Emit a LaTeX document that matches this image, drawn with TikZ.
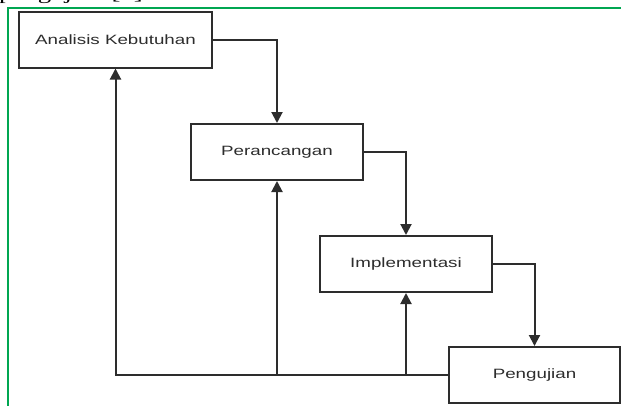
\documentclass[tikz,border=0pt]{standalone}
\usepackage{graphicx}
\usepackage{fontspec}
\setmainfont{Liberation Sans}
\newfontfamily\capfont{Liberation Serif}
\usetikzlibrary{arrows.meta}
\definecolor{framegreen}{RGB}{0,166,81}
\definecolor{ink}{RGB}{45,45,45}
\tikzset{
  stage/.style={draw=ink, line width=2pt, fill=white, inner sep=0pt,
    minimum height=56pt, text=ink,
    font=\fontsize{13.5}{15}\selectfont},
  flow/.style={draw=ink, line width=2pt, line cap=rect,
    -{Triangle[length=11pt,width=11pt]}},
  link/.style={draw=ink, line width=2pt}
}
\newcommand{\wide}[1]{\scalebox{1.39}[1]{#1}}
\begin{document}
\begin{tikzpicture}[x=1pt,y=-1pt]
  \useasboundingbox (0,0) rectangle (621,405);
  \clip (0,0) rectangle (621,405);
  \fill[white] (0,0) rectangle (621,405);

  % caption line of the surrounding page, cut off at the top
  \node[anchor=base west, inner sep=0pt, font=\capfont\fontsize{19}{21}\selectfont]
    (cap) at (-1,-1) {\scalebox{1.41}[1]{pengujian [1]}};

  % green frame
  \draw[framegreen, line width=2pt] (8,410) -- (8,8) -- (625,8);

  % stages of the waterfall
  \node[stage, minimum width=193pt] (ak) at (115.5,39.5) {\wide{Analisis Kebutuhan}};
  \node[stage, minimum width=172pt] (pr) at (277,152) {\wide{Perancangan}};
  \node[stage, minimum width=172pt] (im) at (406,264) {\wide{Implementasi}};
  \node[stage, minimum width=171pt] (pg) at (534.5,375) {\wide{Pengujian}};

  % forward flow
  \draw[flow] (ak.east) -| (pr.north);
  \draw[flow] (pr.east) -| (im.north);
  \draw[flow] (im.east) -| (pg.north);

  % feedback from testing
  \coordinate (fb) at (pg.west);
  \draw[link] (fb) -- (ak.south |- fb);
  \draw[flow] (ak.south |- fb) -- (ak.south);
  \draw[flow] (pr.south |- fb) -- (pr.south);
  \draw[flow] (im.south |- fb) -- (im.south);
\end{tikzpicture}
\end{document}
